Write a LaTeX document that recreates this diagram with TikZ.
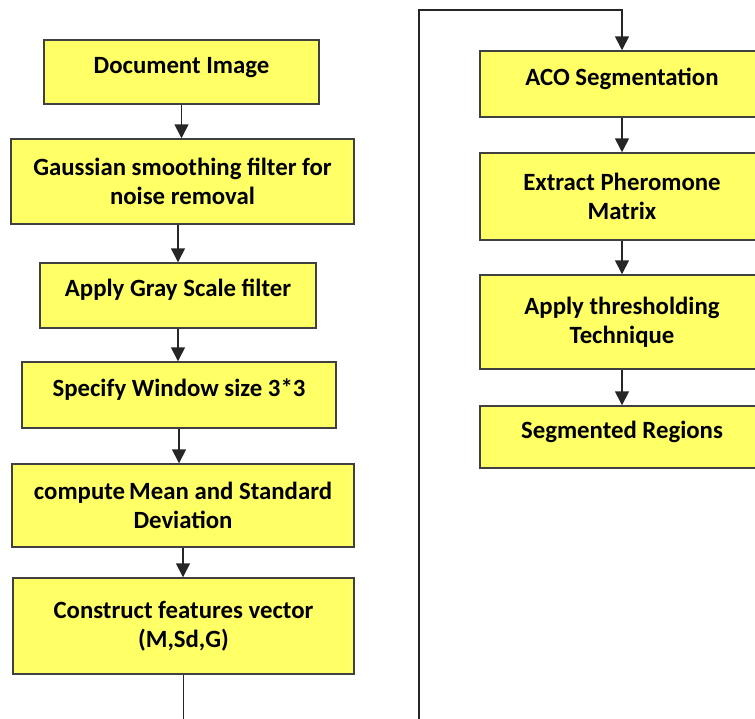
\documentclass[tikz,border=0pt]{standalone}
\usepackage{fontspec}
\setmainfont{Carlito}
\usetikzlibrary{arrows.meta}

\definecolor{boxfill}{RGB}{255,255,102}
\definecolor{boxline}{RGB}{64,64,64}

\tikzset{
  stepbox/.style 2 args={draw=boxline, fill=boxfill, line width=1.1pt, inner sep=0pt,
    align=center, minimum width=#1*0.75pt, minimum height=#2*0.75pt,
    font=\bfseries\fontsize{18.6}{21.75}\selectfont},
  oneline/.style={text height=12pt, text depth=10pt},
  flow/.style={draw=black!85, line width=1.2pt, -{Triangle[length=10.5pt,width=10.5pt]}}
}

\begin{document}
\begin{tikzpicture}[x=0.75pt, y=-0.75pt]
        \useasboundingbox (0,0) rectangle (755,718);
        \clip (0,0) rectangle (755,718);

        % left column
        \node [stepbox={275}{64}, oneline] (doc) at (181.5,72) {Document Image};
        \node [stepbox={343}{85}] (gauss) at (182.5,181.5) {Gaussian smoothing filter for\\noise removal};
        \node [stepbox={276}{65}, oneline] (gray) at (178,295.5) {Apply Gray Scale filter};
        \node [stepbox={314}{66}, oneline] (window) at (179,395) {Specify Window size 3*3};
        \node [stepbox={342}{83}] (mean) at (183,505.5) {compute\,Mean and Standard\\Deviation};
        \node [stepbox={341}{96}] (feat) at (183.5,626) {Construct features vector\\(M,Sd,G)};

        % right column
        \node [stepbox={284}{66}, oneline] (aco) at (622,84) {ACO Segmentation};
        \node [stepbox={284}{87}] (pher) at (622,196.5) {Extract Pheromone\\Matrix};
        \node [stepbox={284}{94}] (thr) at (622,322) {Apply thresholding\\Technique};
        \node [stepbox={284}{62}, oneline] (seg) at (622,437) {Segmented Regions};

        % arrows
        \draw [flow] (doc.south) -- (doc.south |- gauss.north);
        \draw [flow] (gauss.south -| gray.north) -- (gray.north);
        \draw [flow] (gray.south) -- (gray.south |- window.north);
        \draw [flow] (window.south) -- (window.south |- mean.north);
        \draw [flow] (mean.south) -- (mean.south |- feat.north);
        \draw [flow] (aco.south) -- (pher.north);
        \draw [flow] (pher.south) -- (thr.north);
        \draw [flow] (thr.south) -- (seg.north);

        % link between the columns
        \coordinate (low) at (419,740);
        \coordinate (high) at (419,10);
        \draw [flow] (feat.south) |- (low) -- (high) -| (aco.north);
\end{tikzpicture}
\end{document}
